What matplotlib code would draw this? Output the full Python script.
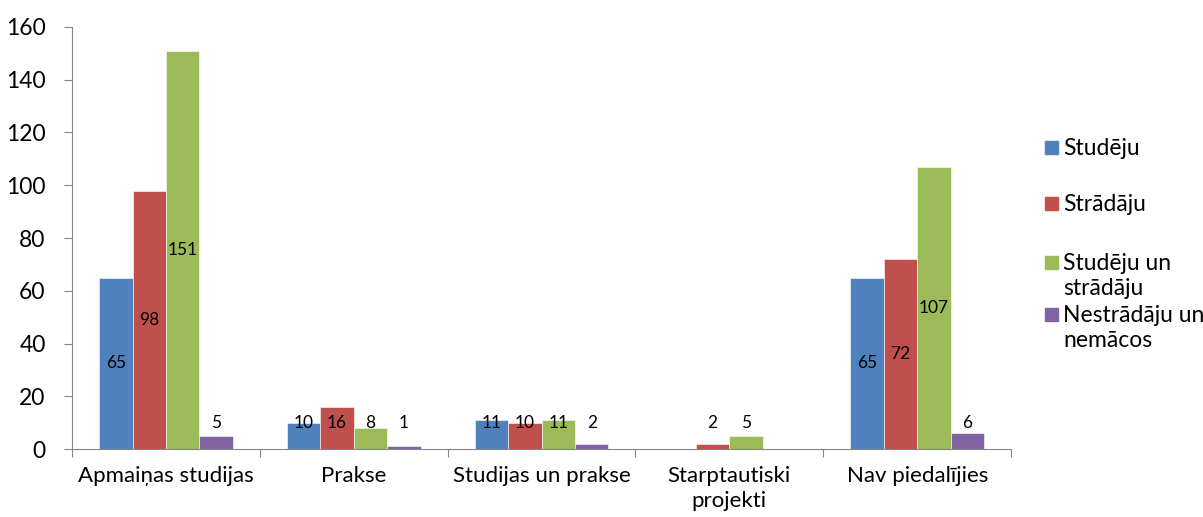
import matplotlib.pyplot as plt
import matplotlib.patches as mpatches
import numpy as np

plt.rcParams['font.family'] = ['Lato', 'DejaVu Sans']

categories = ["Apmaiņas studijas", "Prakse", "Studijas un prakse",
              "Starptautiski\nprojekti", "Nav piedalījies"]
series_names = ["Studēju", "Strādāju", "Studēju un\nstrādāju", "Nestrādāju un\nnemācos"]
studeju = [65, 10, 11, 0, 65]
stradaju = [98, 16, 10, 2, 72]
studeju_un_stradaju = [151, 8, 11, 5, 107]
nestradaju = [5, 1, 2, 0, 6]
colors = ["#4F81BD", "#C0504D", "#9BBB59", "#8064A2"]

values = [studeju, stradaju, studeju_un_stradaju, nestradaju]

W, H = 1203, 517
fig = plt.figure(figsize=(W / 100, H / 100), dpi=100)
ax = fig.add_axes([0.0599, 0.1315, 0.7806, 0.8163])

x = np.arange(len(categories))
w = 0.178
for i, vals in enumerate(values):
    xs = x + (i - 1.5) * w
    ax.bar(xs, vals, width=w, color=colors[i], edgecolor="white", linewidth=0.4)
    for xi, v in zip(xs, vals):
        if v == 0:
            continue
        y = v / 2 if v >= 20 else 9.8
        ax.text(xi, y, str(v), ha="center", va="center", fontsize=12.5, color="black")

ax.set_xlim(-0.5, len(categories) - 0.5)
ax.set_ylim(0, 160)
ax.set_yticks(range(0, 161, 20))
ax.tick_params(axis="y", labelsize=16.5, length=6, color="#868686", pad=13)

ax.set_xticks(np.arange(len(categories) + 1) - 0.5)
ax.set_xticklabels([])
ax.tick_params(axis="x", which="major", length=6, color="#868686")
ax.set_xticks(x, minor=True)
ax.set_xticklabels(categories, minor=True, fontsize=16, linespacing=1.35)
ax.tick_params(axis="x", which="minor", length=0, pad=12)

for s in ["top", "right"]:
    ax.spines[s].set_visible(False)
for s in ["left", "bottom"]:
    ax.spines[s].set_color("#868686")

# legend drawn by hand so the square sits at the first line, as in the original
leg_rows = [147, 203, 262, 314]
line_px = 25
for name, c, row in zip(series_names, colors, leg_rows):
    fig.patches.append(mpatches.Rectangle((1045 / W, 1 - (row + 6.5) / H), 13 / W, 13 / H,
                                          transform=fig.transFigure, color=c))
    for k, line in enumerate(name.split("\n")):
        fig.text(1063 / W, 1 - (row + 8 + k * line_px) / H, line, ha="left",
                 va="baseline", fontsize=16.5)

fig.savefig("out.png", dpi=100)
